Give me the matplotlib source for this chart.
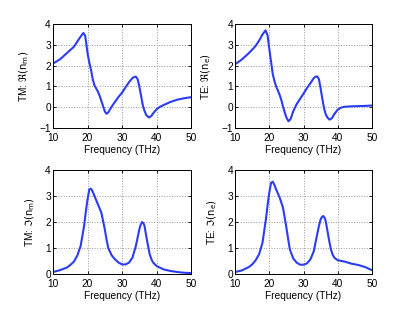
import numpy as np
import matplotlib
matplotlib.use("Agg")
import matplotlib.pyplot as plt

# frequencies (THz) and values
f_tm_re = [10, 11, 12, 13, 14, 15, 16, 17, 18, 18.8, 19.3, 19.6, 20, 20.5, 21, 21.5, 22,
           22.5, 23, 23.5, 24, 24.5, 25, 25.5, 26, 27, 28, 29, 30, 31, 32, 33, 33.5, 34,
           34.5, 35, 35.5, 36, 36.5, 37, 37.8, 38.5, 39, 40, 41, 42, 44, 46, 48, 50]
tm_re = [2.1, 2.2, 2.3, 2.45, 2.6, 2.75, 2.9, 3.15, 3.4, 3.57, 3.45, 3.1, 2.6, 2.15, 1.8,
         1.35, 1.05, 0.9, 0.75, 0.55, 0.3, 0.05, -0.2, -0.32, -0.25, 0.03, 0.27, 0.5, 0.7,
         0.95, 1.2, 1.4, 1.45, 1.47, 1.35, 1.0, 0.55, 0.1, -0.18, -0.38, -0.5, -0.42, -0.3,
         -0.1, 0.02, 0.1, 0.25, 0.36, 0.43, 0.48]

f_te_re = [10, 11, 12, 13, 14, 15, 16, 17, 18, 18.9, 19.5, 20, 20.5, 21, 21.5, 22, 22.5,
           23, 23.5, 24, 24.5, 25, 25.6, 26.2, 27, 28, 29, 30, 31, 32, 33, 33.5, 34, 34.5,
           35, 35.5, 36, 36.5, 37, 37.6, 38.3, 39, 40, 41, 42, 44, 46, 48, 50]
te_re = [2.07, 2.18, 2.3, 2.45, 2.6, 2.77, 2.95, 3.2, 3.5, 3.7, 3.45, 2.8, 2.2, 1.6, 1.25,
         1.0, 0.8, 0.6, 0.35, 0.03, -0.25, -0.5, -0.68, -0.58, -0.2, 0.15, 0.4, 0.65, 0.92,
         1.15, 1.4, 1.47, 1.48, 1.35, 0.9, 0.4, -0.05, -0.35, -0.5, -0.6, -0.53, -0.33,
         -0.12, -0.02, 0.02, 0.04, 0.05, 0.06, 0.08]

f_im = [10, 12, 14, 15, 16, 17, 18, 19, 19.5, 20, 20.5, 21, 21.5, 22, 23, 24, 25, 25.5,
        26, 27, 28, 29, 30, 31, 32, 33, 34, 34.5, 35, 35.4, 35.8, 36.2, 36.5, 37, 37.5,
        38, 38.5, 39, 40, 42, 44, 46, 48, 50]
tm_im = [0.08, 0.15, 0.25, 0.35, 0.47, 0.7, 1.08, 1.85, 2.4, 2.87, 3.25, 3.28, 3.17, 3.0,
         2.68, 2.36, 1.72, 1.33, 1.0, 0.72, 0.56, 0.44, 0.37, 0.37, 0.44, 0.63, 1.08, 1.4,
         1.72, 1.9, 2.0, 1.95, 1.85, 1.46, 1.1, 0.76, 0.57, 0.44, 0.31, 0.18, 0.12, 0.08,
         0.05, 0.04]
te_im = [0.08, 0.14, 0.27, 0.37, 0.53, 0.76, 1.2, 2.1, 2.65, 3.13, 3.5, 3.55, 3.42, 3.25,
         2.95, 2.55, 1.78, 1.35, 0.95, 0.6, 0.44, 0.36, 0.36, 0.41, 0.56, 0.88, 1.53, 1.85,
         2.1, 2.2, 2.23, 2.15, 2.03, 1.65, 1.28, 0.95, 0.75, 0.63, 0.53, 0.48, 0.4, 0.35,
         0.27, 0.15]

plt.rcParams['font.family'] = ['Liberation Sans', 'DejaVu Sans']
plt.rcParams['font.size'] = 7.3
plt.rcParams['xtick.direction'] = 'in'
plt.rcParams['ytick.direction'] = 'in'

fig = plt.figure(figsize=(4.11, 3.09), dpi=100)

panels = [
    ([0.129, 0.586, 0.336, 0.336], f_tm_re, tm_re, (-1, 4), r'TM: $\Re(\mathrm{n_m})$'),
    ([0.572, 0.586, 0.333, 0.336], f_te_re, te_re, (-1, 4), r'TE: $\Re(\mathrm{n_e})$'),
    ([0.129, 0.113, 0.336, 0.337], f_im, tm_im, (0, 4), r'TM: $\Im(\mathrm{n_m})$'),
    ([0.572, 0.113, 0.333, 0.337], f_im, te_im, (0, 4), r'TE: $\Im(\mathrm{n_e})$'),
]

for rect, x, y, ylim, lab in panels:
    ax = fig.add_axes(rect)
    ax.plot(x, y, color='#2b3cf5', linewidth=1.5)
    ax.set_xlim(10, 50)
    ax.set_ylim(*ylim)
    ax.set_xticks([10, 20, 30, 40, 50])
    ax.set_yticks(np.arange(ylim[0], ylim[1] + 1))
    ax.grid(True, linestyle=':', color='#999999', linewidth=0.7)
    ax.tick_params(length=2.5, width=0.6, top=True, right=True)
    ax.tick_params(axis='x', pad=3.5)
    ax.tick_params(axis='y', pad=1.5)
    for s in ax.spines.values():
        s.set_linewidth(0.7)
    ax.set_xlabel('Frequency (THz)', labelpad=1.5)
    ax.set_ylabel(lab, labelpad=6)

fig.savefig('out.png', dpi=100)
